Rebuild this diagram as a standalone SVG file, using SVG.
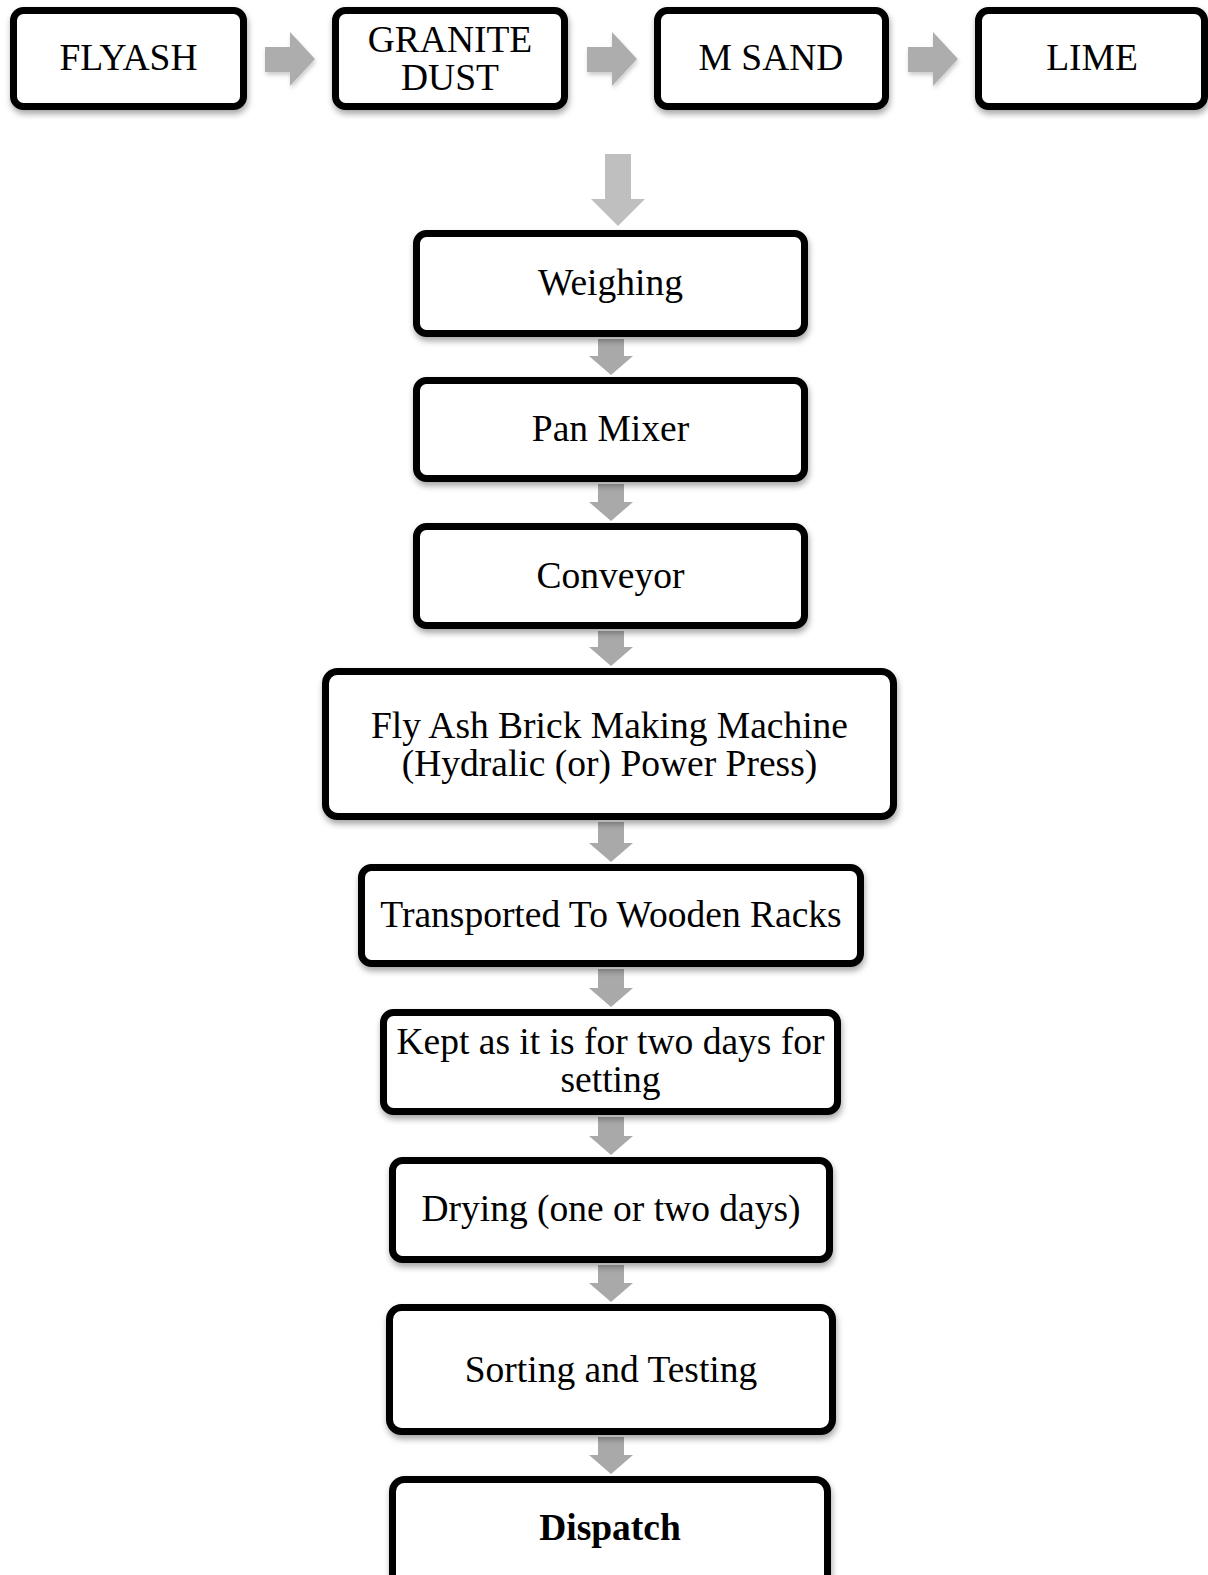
<svg xmlns="http://www.w3.org/2000/svg" width="1208" height="1575" viewBox="0 0 1208 1575">
<defs>
<filter id="sh" x="-10%" y="-10%" width="120%" height="130%">
<feDropShadow dx="1" dy="4" stdDeviation="3" flood-color="#000" flood-opacity="0.35"/>
</filter>
<filter id="ash" x="-20%" y="-20%" width="140%" height="140%">
<feDropShadow dx="1" dy="3" stdDeviation="2" flood-color="#000" flood-opacity="0.2"/>
</filter>
</defs>
<style>
.box{fill:#fff;stroke:#000;stroke-width:7;filter:url(#sh)}
.t{font-family:"Liberation Serif","Times New Roman",serif;font-size:37.5px;fill:#000;text-anchor:middle}
.b{font-weight:bold}
.arr{fill:#a9a9a9}
.harr{fill:#adadad;filter:url(#ash)}
.big{fill:#bfbfbf}
</style>
<rect width="1208" height="1575" fill="#fff"/>
<g id="connectors">
<path class="harr" d="M265,47 H290 V32 L315,59 L290,86 V72 H265 Z"/>
<path class="harr" d="M587,47 H612 V32 L637,59 L612,86 V72 H587 Z"/>
<path class="harr" d="M908,47 H933 V32 L958,59 L933,86 V72 H908 Z"/>
<path class="big" d="M605,154 H631 V199 H645 L618,226 L591,199 H605 Z"/>
<path class="arr" d="M598,339 H624 V356 H633 L611,375 L589,356 H598 Z"/>
<path class="arr" d="M598,484 H624 V502 H633 L611,521 L589,502 H598 Z"/>
<path class="arr" d="M598,631 H624 V647 H633 L611,666 L589,647 H598 Z"/>
<path class="arr" d="M598,822 H624 V843 H633 L611,862 L589,843 H598 Z"/>
<path class="arr" d="M598,969 H624 V988 H633 L611,1007 L589,988 H598 Z"/>
<path class="arr" d="M598,1117 H624 V1136 H633 L611,1155 L589,1136 H598 Z"/>
<path class="arr" d="M598,1265 H624 V1283 H633 L611,1302 L589,1283 H598 Z"/>
<path class="arr" d="M598,1437 H624 V1455 H633 L611,1474 L589,1455 H598 Z"/>
</g>
<g id="flyash"><rect class="box" x="13.5" y="10.5" width="230" height="96" rx="10"/><text class="t" x="128.5" y="70">FLYASH</text></g>
<g id="granite"><rect class="box" x="335.5" y="10.5" width="229" height="96" rx="10"/><text class="t" x="450" y="52">GRANITE</text><text class="t" x="450" y="90">DUST</text></g>
<g id="msand"><rect class="box" x="657.5" y="10.5" width="228" height="96" rx="10"/><text class="t" x="771" y="70">M SAND</text></g>
<g id="lime"><rect class="box" x="978.5" y="10.5" width="226" height="96" rx="10"/><text class="t" x="1092" y="70">LIME</text></g>
<g id="weighing"><rect class="box" x="416.5" y="233.5" width="388" height="100" rx="10"/><text class="t" x="610.5" y="295">Weighing</text></g>
<g id="panmixer"><rect class="box" x="416.5" y="380.5" width="388" height="98" rx="10"/><text class="t" x="610.5" y="441">Pan Mixer</text></g>
<g id="conveyor"><rect class="box" x="416.5" y="526.5" width="388" height="99" rx="10"/><text class="t" x="610.5" y="588">Conveyor</text></g>
<g id="machine"><rect class="box" x="325.5" y="671.5" width="568" height="145" rx="12"/><text class="t" x="609.5" y="738">Fly Ash Brick Making Machine</text><text class="t" x="609.5" y="776">(Hydralic (or) Power Press)</text></g>
<g id="transported"><rect class="box" x="361.5" y="867.5" width="499" height="96" rx="10"/><text class="t" x="611" y="927">Transported To Wooden Racks</text></g>
<g id="kept"><rect class="box" x="383.5" y="1012.5" width="454" height="99" rx="10"/><text class="t" x="610.5" y="1054">Kept as it is for two days for</text><text class="t" x="610.5" y="1092">setting</text></g>
<g id="drying"><rect class="box" x="392.5" y="1160.5" width="437" height="99" rx="10"/><text class="t" x="611" y="1221">Drying (one or two days)</text></g>
<g id="sorting"><rect class="box" x="389.5" y="1307.5" width="443" height="124" rx="12"/><text class="t" x="611" y="1382">Sorting and Testing</text></g>
<g id="dispatch"><rect class="box" x="392.5" y="1479.5" width="435" height="112" rx="12"/><text class="t b" x="610" y="1540">Dispatch</text></g>
</svg>
